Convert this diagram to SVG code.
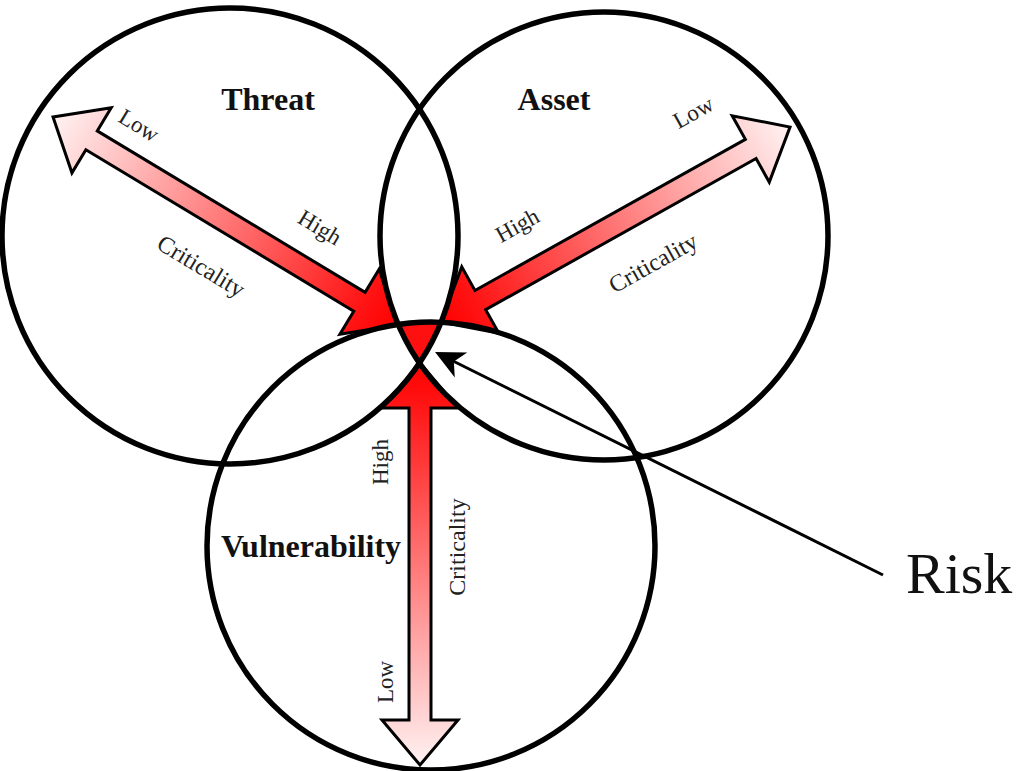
<svg xmlns="http://www.w3.org/2000/svg" width="1021" height="771" viewBox="0 0 1021 771">
<style>
.circ{fill:none;stroke:#000;stroke-width:5.5}
.arrow{fill:url(#grad);stroke:#000;stroke-width:3;stroke-linejoin:miter}
.title{font-family:"Liberation Serif",serif;font-weight:bold;font-size:32px;fill:#111;text-anchor:middle}
.lbl{font-family:"Liberation Serif",serif;font-size:23px;fill:#222;text-anchor:middle}
.crit{font-family:"Liberation Serif",serif;font-size:24px;fill:#222;text-anchor:middle}
.risk{font-family:"Liberation Serif",serif;font-size:58px;fill:#111}
</style>
<defs>
<linearGradient id="grad" x1="0" y1="0" x2="1" y2="0">
<stop offset="0" stop-color="#ff0000"/>
<stop offset="0.1" stop-color="#ff1414"/>
<stop offset="1" stop-color="#fff2f2"/>
</linearGradient>
<clipPath id="cT"><circle cx="230" cy="236" r="228"/></clipPath>
<clipPath id="cA"><circle cx="604" cy="236" r="224"/></clipPath>
<marker id="ah" markerUnits="userSpaceOnUse" viewBox="-30 -16 42 32" markerWidth="42" markerHeight="32" refX="-10" refY="0" orient="auto">
<path d="M0,0 L-29,-14 L-21,0 L-29,14 Z" fill="#000"/>
</marker>
</defs>
<rect x="0" y="0" width="1021" height="771" fill="#fff"/>
<g id="connectors">
<g id="threat-arrow"><polygon class="arrow" transform="translate(398,325) rotate(211.08)" points="0,0 45,-38 45,-11 357.8,-11 357.8,-38 402.8,0 357.8,38 357.8,11 45,11 45,38"/></g>
<g id="asset-arrow"><polygon class="arrow" transform="translate(441,322) rotate(-29.19)" points="0,0 45,-38 45,-11 354.8,-11 354.8,-38 399.8,0 354.8,38 354.8,11 45,11 45,38"/></g>
<g id="vuln-arrow"><polygon class="arrow" transform="translate(420,363) rotate(90)" points="0,0 45,-38 45,-11 357,-11 357,-38 402,0 357,38 357,11 45,11 45,38"/></g>
</g>
<g id="risk-region" clip-path="url(#cT)"><circle cx="431" cy="546" r="224" fill="#ff1010" clip-path="url(#cA)"/></g>
<g id="threat"><circle class="circ" cx="230" cy="236" r="228"/><text class="title" x="268" y="110">Threat</text></g>
<g id="asset"><circle class="circ" cx="604" cy="236" r="224"/><text class="title" x="554" y="110">Asset</text></g>
<g id="vulnerability"><circle class="circ" cx="431" cy="546" r="224"/><text class="title" x="311" y="557">Vulnerability</text></g>
<g id="labels">
<g transform="rotate(31.1 135 132)"><text class="lbl" x="135" y="132">Low</text></g>
<g transform="rotate(31.1 316 234)"><text class="lbl" x="316" y="234">High</text></g>
<g transform="rotate(31.1 197 273)"><text class="crit" x="197" y="273">Criticality</text></g>
<g transform="rotate(-29.2 521 232)"><text class="lbl" x="521" y="232">High</text></g>
<g transform="rotate(-29.2 657 270)"><text class="crit" x="657" y="270">Criticality</text></g>
<g transform="rotate(-29.2 697 119)"><text class="lbl" x="697" y="119">Low</text></g>
<g transform="rotate(-90 388 462)"><text class="lbl" x="388" y="462">High</text></g>
<g transform="rotate(-90 465 547)"><text class="crit" x="465" y="547">Criticality</text></g>
<g transform="rotate(-90 393 682)"><text class="lbl" x="393" y="682">Low</text></g>
</g>
<g id="risk">
<line x1="883" y1="575" x2="444" y2="356.5" stroke="#000" stroke-width="3" marker-end="url(#ah)"/>
<text class="risk" x="906" y="593">Risk</text>
</g>
</svg>
